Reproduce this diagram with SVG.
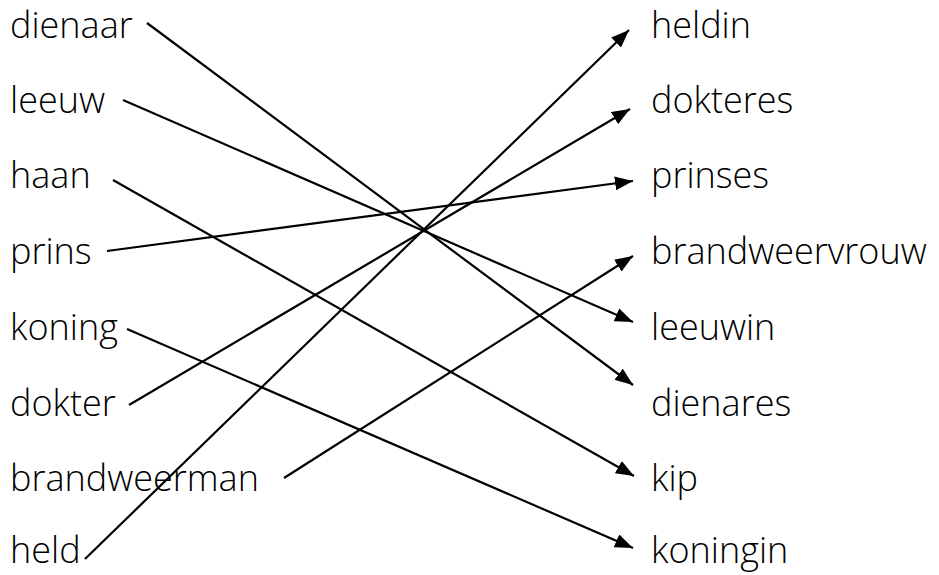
<svg xmlns="http://www.w3.org/2000/svg" width="939" height="575" viewBox="0 0 939 575">
<style>
text{font-family:"Open Sans","Noto Sans","Liberation Sans",sans-serif;font-weight:300;font-size:36px;fill:#000}
.c line{stroke:#000;stroke-width:2.2;fill:none}
</style>
<defs>
<marker id="ah" markerUnits="userSpaceOnUse" markerWidth="20" markerHeight="14" refX="18" refY="7" orient="auto">
<path d="M0,0 L18,7 L0,14 Z" fill="#000"/>
</marker>
</defs>
<rect width="939" height="575" fill="#fff"/>
<g id="dienaar"><text x="10" y="38">dienaar</text></g>
<g id="leeuw"><text x="10" y="113">leeuw</text></g>
<g id="haan"><text x="10" y="188">haan</text></g>
<g id="prins"><text x="10" y="264">prins</text></g>
<g id="koning"><text x="10" y="340">koning</text></g>
<g id="dokter"><text x="10" y="416">dokter</text></g>
<g id="brandweerman"><text x="10" y="491">brandweerman</text></g>
<g id="held"><text x="10" y="563">held</text></g>
<g id="heldin"><text x="651" y="38">heldin</text></g>
<g id="dokteres"><text x="651" y="113">dokteres</text></g>
<g id="prinses"><text x="651" y="188">prinses</text></g>
<g id="brandweervrouw"><text x="651" y="264">brandweervrouw</text></g>
<g id="leeuwin"><text x="651" y="340">leeuwin</text></g>
<g id="dienares"><text x="651" y="416">dienares</text></g>
<g id="kip"><text x="651" y="491">kip</text></g>
<g id="koningin"><text x="651" y="563">koningin</text></g>
<g id="connectors" class="c">
<line x1="147" y1="23" x2="633" y2="385" marker-end="url(#ah)"/>
<line x1="123" y1="100" x2="633" y2="322" marker-end="url(#ah)"/>
<line x1="113" y1="180" x2="634" y2="476" marker-end="url(#ah)"/>
<line x1="107" y1="251" x2="633" y2="181" marker-end="url(#ah)"/>
<line x1="127" y1="329" x2="633" y2="548" marker-end="url(#ah)"/>
<line x1="129" y1="405" x2="630" y2="109" marker-end="url(#ah)"/>
<line x1="284" y1="478" x2="633" y2="256" marker-end="url(#ah)"/>
<line x1="85" y1="559" x2="629" y2="30" marker-end="url(#ah)"/>
</g>
</svg>
